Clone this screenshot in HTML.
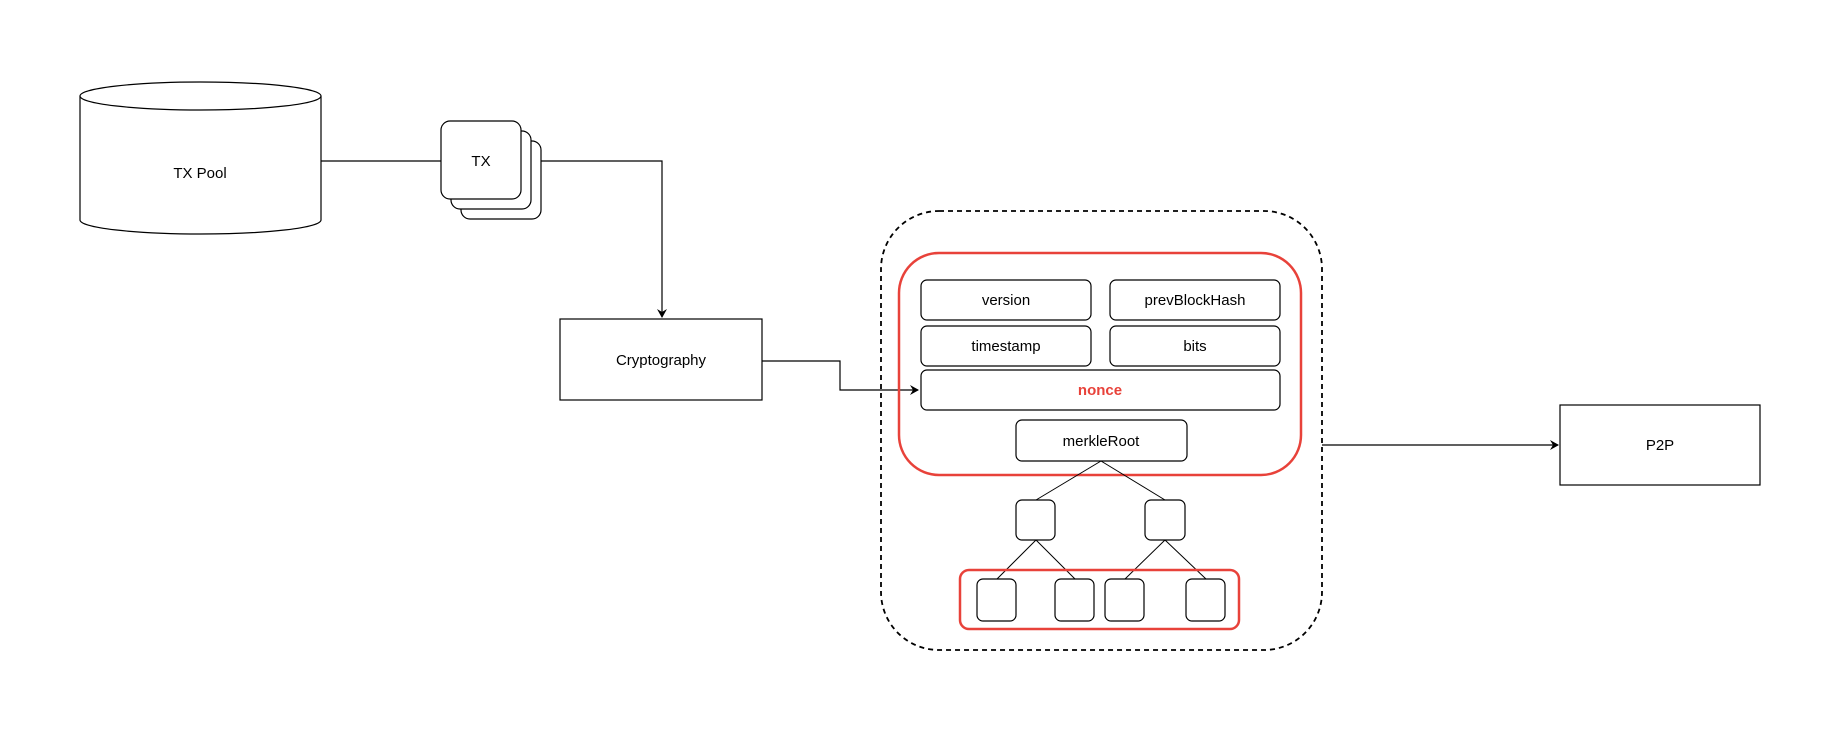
<!DOCTYPE html>
<html><head><meta charset="utf-8"><style>html,body{margin:0;background:#fff}</style></head>
<body>
<svg width="1838" height="726" viewBox="0 0 1838 726" xmlns="http://www.w3.org/2000/svg" font-family="Liberation Sans, Arial, sans-serif" font-size="15" text-anchor="middle">
<defs><marker id="a" markerWidth="10" markerHeight="10" refX="8" refY="5" orient="auto" markerUnits="userSpaceOnUse"><path d="M0,0 L9,5 L0,10 L3,5 Z" fill="#000"/></marker></defs>
<g fill="#fff" stroke="#000" stroke-width="1.2">
<!-- cylinder -->
<path d="M80,96 L80,220 A120.5,14 0 0 0 321,220 L321,96"/>
<ellipse cx="200.5" cy="96" rx="120.5" ry="14"/>
<!-- connectors -->
<path d="M321,161 L441,161" fill="none"/>
<rect x="461" y="141" width="80" height="78" rx="9"/>
<rect x="451" y="131" width="80" height="78" rx="9"/>
<rect x="441" y="121" width="80" height="78" rx="9"/>
<path d="M541,161 L662,161 L662,317" fill="none" marker-end="url(#a)"/>
<rect x="560" y="319" width="202" height="81"/>
<path d="M762,361 L840,361 L840,390 L918,390" fill="none" marker-end="url(#a)"/>
<rect x="881" y="211" width="441" height="439" rx="58" fill="none" stroke-dasharray="5,4" stroke-width="1.8"/>
<rect x="899" y="253" width="402" height="222" rx="40" fill="none" stroke="#e8423a" stroke-width="2.5"/>
<rect x="921" y="280" width="170" height="40" rx="6"/>
<rect x="1110" y="280" width="170" height="40" rx="6"/>
<rect x="921" y="326" width="170" height="40" rx="6"/>
<rect x="1110" y="326" width="170" height="40" rx="6"/>
<rect x="921" y="370" width="359" height="40" rx="6"/>
<rect x="1016" y="420" width="171" height="41" rx="6"/>
<path d="M1101,461 L1036,500 M1101,461 L1165,500 M1036,540 L997,579 M1036,540 L1075,579 M1165,540 L1125,579 M1165,540 L1206,579" fill="none" stroke-width="1"/>
<rect x="1016" y="500" width="39" height="40" rx="6"/>
<rect x="1145" y="500" width="40" height="40" rx="6"/>
<rect x="960" y="570" width="279" height="59" rx="9" fill="none" stroke="#e8423a" stroke-width="2.5"/>
<rect x="977" y="579" width="39" height="42" rx="6"/>
<rect x="1055" y="579" width="39" height="42" rx="6"/>
<rect x="1105" y="579" width="39" height="42" rx="6"/>
<rect x="1186" y="579" width="39" height="42" rx="6"/>
<path d="M1322,445 L1558,445" fill="none" marker-end="url(#a)"/>
<rect x="1560" y="405" width="200" height="80"/>
</g>
<g fill="#000">
<text x="200" y="178">TX Pool</text>
<text x="481" y="166">TX</text>
<text x="661" y="365">Cryptography</text>
<text x="1006" y="305">version</text>
<text x="1195" y="305">prevBlockHash</text>
<text x="1006" y="351">timestamp</text>
<text x="1195" y="351">bits</text>
<text x="1100" y="395" fill="#e8423a" font-weight="bold">nonce</text>
<text x="1101" y="446">merkleRoot</text>
<text x="1660" y="450">P2P</text>
</g>
</svg>
</body></html>
